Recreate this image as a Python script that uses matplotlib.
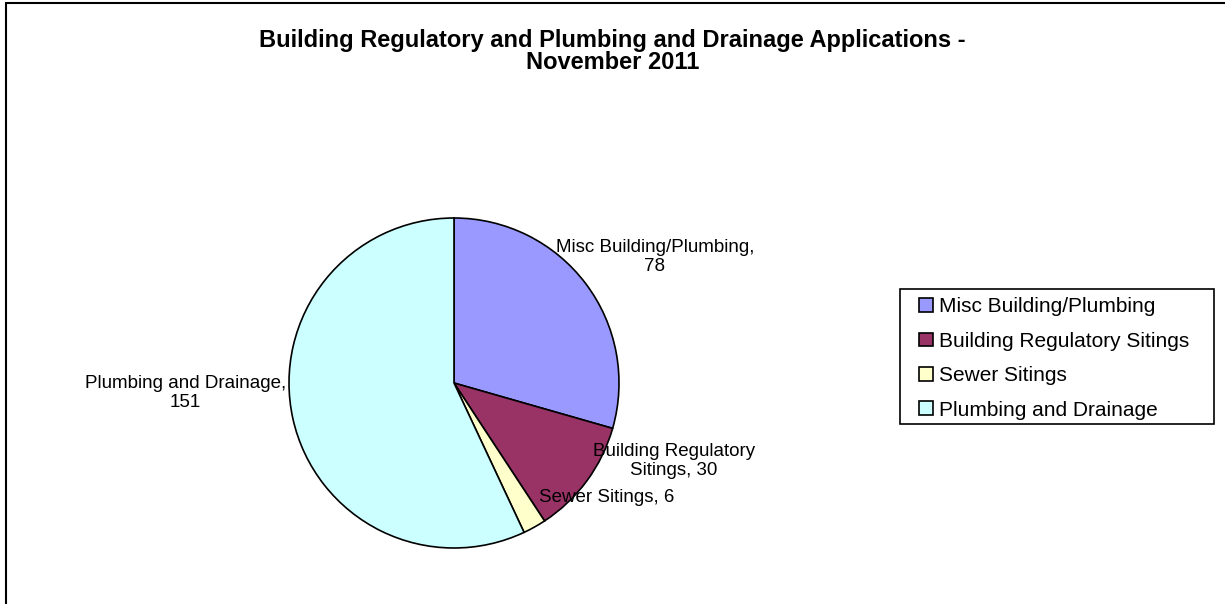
import matplotlib.pyplot as plt
from matplotlib.patches import Rectangle

plt.rcParams['font.family'] = ['Liberation Sans', 'DejaVu Sans']

# Data
categories = ["Misc Building/Plumbing", "Building Regulatory Sitings",
              "Sewer Sitings", "Plumbing and Drainage"]
values = [78, 30, 6, 151]
colors = ["#9999FF", "#993366", "#FFFFCC", "#CCFFFF"]
pie_labels = ["Misc Building/Plumbing,\n78", "Building Regulatory\nSitings, 30",
              "Sewer Sitings, 6", "Plumbing and Drainage,\n151"]
label_pos = [(1.218, 0.765), (1.333, -0.473), (0.925, -0.691), (-1.627, -0.058)]

W, H = 1225, 604
fig = plt.figure(figsize=(W / 100, H / 100), dpi=100)

# outer chart border (only top/left visible in the original)
fig.patches.append(Rectangle((6 / W, -0.05), 1.2, (H + 30 - 3) / H, transform=fig.transFigure,
                             fill=False, edgecolor="black", linewidth=1.5))

# pie axes: centre (454, 383), radius 165 px
cx, cy, r = 454, 383, 165
ax = fig.add_axes([(cx - r) / W, (H - cy - r) / H, 2 * r / W, 2 * r / H])
wedges, _ = ax.pie(values, colors=colors, startangle=90, counterclock=False,
                   radius=1, wedgeprops=dict(edgecolor="black", linewidth=1.2))
ax.set_xlim(-1, 1)
ax.set_ylim(-1, 1)
ax.set_aspect("equal")
ax.axis("off")

for lab, (x, y) in zip(pie_labels, label_pos):
    ax.text(x, y, lab, ha="center", va="center", fontsize=13.5, clip_on=False,
            linespacing=1.15)

fig.text(0.5, 1 - 51.5 / H, "Building Regulatory and Plumbing and Drainage Applications -\nNovember 2011",
         ha="center", va="center", fontsize=17, fontweight="bold", linespacing=0.94)

# legend with a hand-drawn frame (wider side padding than top/bottom)
leg = fig.legend(wedges, categories, loc="center left",
                 bbox_to_anchor=(919 / W, 1 - 358.5 / H), fontsize=15,
                 frameon=False, handlelength=0.65, handleheight=0.65,
                 handletextpad=0.3, labelspacing=0.74, borderpad=0,
                 borderaxespad=0)
for h in leg.legend_handles:
    h.set_linewidth(1.2)
fig.patches.append(Rectangle((900 / W, 1 - 424 / H), 314 / W, 135 / H,
                             transform=fig.transFigure, fill=False,
                             edgecolor="black", linewidth=1.2))

fig.savefig("out.png", dpi=100)
